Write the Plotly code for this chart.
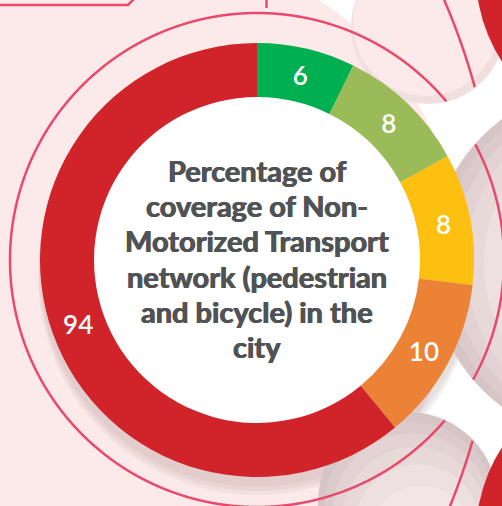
import numpy as np
import plotly.graph_objects as go

W, H = 502, 506

# ---- data (arc sizes, labels as printed) ----
categories = ["Segment A", "Segment B", "Segment C", "Segment D", "Segment E"]
slice_sizes = [6, 8, 8, 10, 50]
slice_labels = ["6", "8", "8", "10", "94"]
slice_colors = ["#00af50", "#9bbb59", "#fdc010", "#eb8236", "#d0232a"]
title_lines = ["Percentage of", "coverage of Non-", "Motorized Transport",
               "network (pedestrian", "and bicycle) in the", "city"]

PINK = "#fce9e9"
RING = "#e94a6b"
RED = "#d0232a"
TITLE_COLOR = "#505254"


def px(x):
    return x / W


def py(y):
    return 1 - y / H


def circle(cx, cy, r, fill, line_color=None, line_width=0, opacity=1.0):
    return dict(type="circle", xref="paper", yref="paper", layer="below",
                x0=px(cx - r), x1=px(cx + r), y0=py(cy + r), y1=py(cy - r),
                fillcolor=fill, opacity=opacity,
                line=dict(color=line_color or "rgba(0,0,0,0)", width=line_width))


def path_from_points(xs, ys):
    return "M " + " L ".join(f"{px(a):.5f},{py(b):.5f}" for a, b in zip(xs, ys))


def clipped_ring(cx, cy, r, regions, excludes, n=2000):
    t = np.linspace(0, 2 * np.pi, n + 1)
    xs = cx + r * np.cos(t)
    ys = cy + r * np.sin(t)
    inside = np.zeros(len(t), dtype=bool)
    for ax, ay, ar in regions:
        inside |= (xs - ax) ** 2 + (ys - ay) ** 2 <= ar ** 2
    for ax, ay, ar in excludes:
        inside &= (xs - ax) ** 2 + (ys - ay) ** 2 > ar ** 2
    inside &= (xs > -10) & (xs < W + 10) & (ys > -10) & (ys < H + 10)
    shapes = []
    i = 0
    while i < len(t):
        if inside[i]:
            j = i
            while j + 1 < len(t) and inside[j + 1]:
                j += 1
            if j > i:
                shapes.append(dict(type="path", xref="paper", yref="paper", layer="below",
                                   path=path_from_points(xs[i:j + 1], ys[i:j + 1]),
                                   line=dict(color=RING, width=2.5)))
            i = j + 1
        else:
            i += 1
    return shapes


MAIN = (150, 260, 310)
TR = (428, 27, 77)
RM = (610, 263, 180)
BR = (408, 502, 90)
RED_T = (637, -26, 161)
RED_B = (637, 535, 161)

shapes = []
shapes.append(circle(*MAIN, PINK))
# donut drop shadow (mostly below)
for (cx, cy, r) in [(257, 276, 219), (257, 273, 218), (257, 270, 217)]:
    shapes.append(circle(cx, cy, r, "rgba(110,70,70,0.06)"))

# top-right pink circle, light shading at its lower edge
shapes.append(circle(TR[0], TR[1], TR[2], "#f1dfdf"))
shapes.append(circle(TR[0] - 2, TR[1] - 4, TR[2] - 4, PINK))


def shaded(c, dx, dy):
    cx, cy, r = c
    tones = ["#d6c5c6", "#dccbcc", "#e2d2d3", "#e8d9d9", "#eee0e0", "#f3e5e5", "#f7e9e9"]
    steps = [0, 5, 11, 18, 27, 38, 52]
    out = []
    for tone, s in zip(tones, steps):
        out.append(circle(cx + dx * s, cy + dy * s, r - s, tone))
    return out


shapes += shaded(RM, 1, 0)
shapes += shaded(BR, 0.35, 0.94)
shapes.append(circle(*RED_T, RED))
shapes.append(circle(*RED_B, RED))

# decorative rings
shapes += clipped_ring(257, 260, 247, [MAIN, TR, RM, BR], [RED_T, RED_B])
shapes += clipped_ring(-157, 260, 655, [TR, BR], [RED_T, RED_B])

# small decorative strokes at the top
shapes.append(dict(type="path", xref="paper", yref="paper", layer="below",
                   path=path_from_points([-5, 128, 136], [5, 5, -3]),
                   line=dict(color=RING, width=2.5)))
shapes.append(dict(type="line", xref="paper", yref="paper", layer="below",
                   x0=px(266.5), x1=px(266.5), y0=py(-2), y1=py(8),
                   line=dict(color=RING, width=2.5)))

# white centre of the donut
shapes.append(circle(257, 260, 164, "#ffffff"))

fig = go.Figure()
fig.add_trace(go.Pie(
    labels=categories,
    values=slice_sizes,
    text=slice_labels,
    textinfo="text",
    textposition="inside",
    insidetextorientation="horizontal",
    sort=False,
    direction="clockwise",
    rotation=0,
    hole=0.751,
    marker=dict(colors=slice_colors, line=dict(width=0)),
    textfont=dict(family="Lato", size=26, color="white", weight=600),
    domain=dict(x=[px(40), px(474)], y=[py(477), py(43)]),
    showlegend=False,
    hoverinfo="none",
))

# centre title, one annotation per line (tight leading like the reference)
line_gap = 35.3
first_y = 260 - line_gap * (len(title_lines) - 1) / 2 - 1.5
annotations = []
for k, line in enumerate(title_lines):
    annotations.append(dict(
        text=line, xref="paper", yref="paper",
        x=px(257), y=py(first_y + k * line_gap),
        xanchor="center", yanchor="middle", showarrow=False,
        font=dict(family="Lato", size=29, color=TITLE_COLOR, weight="bold",
                  shadow=f"0.5px 0 0 {TITLE_COLOR}, -0.5px 0 0 {TITLE_COLOR}"),
    ))

fig.update_layout(
    width=W, height=H,
    margin=dict(l=0, r=0, t=0, b=0),
    paper_bgcolor="#ffffff",
    plot_bgcolor="#ffffff",
    shapes=shapes,
    annotations=annotations,
    showlegend=False,
)

fig.write_html("out.html", config={"displayModeBar": False},
               post_script="document.body.style.margin='0';")
